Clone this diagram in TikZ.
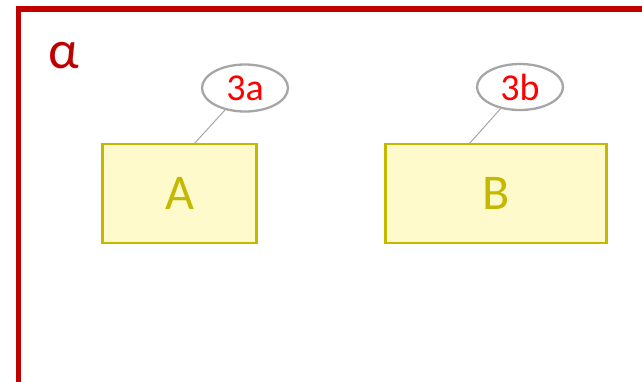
\documentclass[tikz,border=0pt]{standalone}
\usepackage{fontspec}
\setmainfont{Carlito}
\usetikzlibrary{shapes.geometric}
\definecolor{framered}{HTML}{C00000}
\definecolor{boxline}{HTML}{C4B800}
\definecolor{boxfill}{HTML}{FFFACC}
\definecolor{calgray}{HTML}{A6A6A6}
\tikzset{
  box/.style={draw=boxline, fill=boxfill, line width=2.5pt, inner sep=0pt,
    text=boxline, font=\fontsize{50}{50}\selectfont},
  callout/.style={ellipse, draw=calgray, line width=2.3pt, inner sep=0pt,
    text=red, font=\fontsize{38}{38}\selectfont},
  link/.style={draw=calgray, line width=1pt}
}
\begin{document}
\begin{tikzpicture}[x=1pt,y=-1pt]
\useasboundingbox (0,0) rectangle (642,381);
\begin{scope}
\clip (0,0) rectangle (642,381);
\draw[framered, line width=5.5pt] (18.5,9) rectangle (700,440);
\end{scope}
\node[text=framered, font=\fontsize{54}{54}\selectfont, anchor=center] (alpha) at (64,56) {α};
\node[box, minimum width=154pt, minimum height=99pt] (A) at (179.5,193.5) {A};
\node[box, minimum width=221pt, minimum height=99pt] (B) at (496,193.5) {B};
\node[callout, minimum width=86pt, minimum height=47pt] (c3a) at (245,88) {3a};
\node[callout, minimum width=86pt, minimum height=46pt] (c3b) at (520,87) {3b};
\coordinate (pa) at (194,144);
\coordinate (pb) at (469,144);
\draw[link] (c3a) -- (pa);
\draw[link] (c3b) -- (pb);
\end{tikzpicture}
\end{document}
